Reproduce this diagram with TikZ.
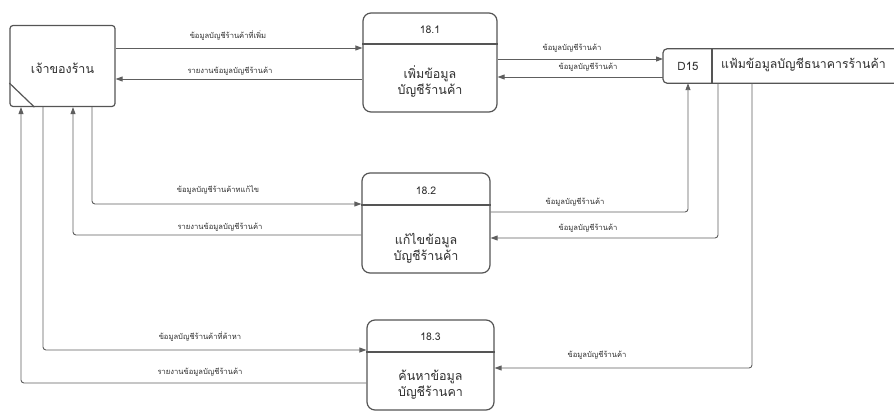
\documentclass[tikz,border=0pt]{standalone}
\usepackage{fontspec}
\newfontfamily\thaifont[Script=Thai]{Loma}
\usetikzlibrary{arrows.meta}
\definecolor{linegray}{HTML}{5E5E5E}
\definecolor{boxgray}{HTML}{555555}
\definecolor{txt}{HTML}{2E2E2E}
\tikzset{
  conn/.style={draw=linegray, line width=0.9pt, rounded corners=3pt},
  flow/.style={conn, -{Triangle[length=7pt,width=5pt]}},
  lbl/.style={font=\thaifont\fontsize{7.6}{9}\selectfont, text=txt, inner sep=0pt},
  procbox/.style={draw=boxgray, line width=1.2pt, rounded corners=8pt, inner sep=0pt},
  idtext/.style={font=\thaifont\fontsize{10.5}{12}\selectfont, text=txt, inner sep=0pt},
  bodytext/.style={font=\thaifont\fontsize{12.5}{16}\selectfont, text=txt, align=center, inner sep=0pt},
}
\begin{document}
\begin{tikzpicture}[x=1pt,y=-1pt]
\useasboundingbox (0,0) rectangle (894,414);
% external entity
\node[draw=boxgray, line width=1.2pt, rounded corners=3pt, minimum width=105pt, minimum height=81pt, inner sep=0pt] (ent) at (62.5,66) {};
\node[bodytext] (entt) at (62.5,68) {เจ้าของร้าน};
\draw[draw=boxgray, line width=1.2pt] ([yshift=24pt]ent.south west) -- ([xshift=25pt]ent.south west);
% processes
\node[procbox, minimum width=134pt, minimum height=99pt] (p1) at (430,62.5) {};
\draw[draw=boxgray, line width=1.2pt] (p1.west |- 0,44) -- (p1.east |- 0,44);
\node[idtext] (p1id) at (430,30) {18.1};
\node[bodytext] (p1t) at (430,81) {เพิ่มข้อมูล\\บัญชีร้านค้า};

\node[procbox, minimum width=128pt, minimum height=100pt] (p2) at (426,223) {};
\draw[draw=boxgray, line width=1.2pt] (p2.west |- 0,205) -- (p2.east |- 0,205);
\node[idtext] (p2id) at (426,191) {18.2};
\node[bodytext] (p2t) at (426,248) {แก้ไขข้อมูล\\บัญชีร้านค้า};

\node[procbox, minimum width=127pt, minimum height=90pt] (p3) at (430.5,365) {};
\draw[draw=boxgray, line width=1.2pt] (p3.west |- 0,352) -- (p3.east |- 0,352);
\node[idtext] (p3id) at (430.5,337) {18.3};
\node[bodytext] (p3t) at (430.5,385) {ค้นหาข้อมูล\\บัญชีร้านคา};

% data store
\node[minimum width=240pt, minimum height=34pt, inner sep=0pt, anchor=west] (ds) at (663,66) {};
\draw[draw=boxgray, line width=1.2pt, rounded corners=4pt] (ds.north east) -- (ds.north west) -- (ds.south west) -- (ds.south east);
\draw[draw=boxgray, line width=1.2pt] (712,49) -- (712,83);
\node[idtext, font=\thaifont\fontsize{11.5}{13}\selectfont] (dsid) at (688,66) {D15};
\node[bodytext, anchor=west, font=\thaifont\fontsize{12.3}{16}\selectfont] (dst) at (721,65) {แฟ้มข้อมูลบัญชีธนาคารร้านค้า};

% flows
\draw[flow] (ent.east |- 0,48) -- (p1.west |- 0,48);
\node[lbl] at (228,36) {ข้อมูลบัญชีร้านค้าที่เพิ่ม};
\draw[flow] (p1.west |- 0,79) -- (ent.east |- 0,79);
\node[lbl] at (230,71) {รายงานข้อมูลบัญชีร้านค้า};

\draw[flow] (p1.east |- 0,59) -- (ds.west |- 0,59);
\node[lbl] at (572,48) {ข้อมูลบัญชีร้านค้า};
\draw[flow] (ds.west |- 0,77) -- (p1.east |- 0,77);
\node[lbl] at (588,67) {ข้อมูลบัญชีร้านค้า};

\draw[flow] (ent.south -| 92,0) |- (p2.west |- 0,204);
\node[lbl] at (218,190) {ข้อมูลบัญชีร้านค้าทแก้ไข};
\draw[flow] (p2.west |- 0,235) -| (ent.south -| 73,0);
\node[lbl] at (220,227) {รายงานข้อมูลบัญชีร้านค้า};

\draw[flow] (p2.east |- 0,212) -| (ds.south -| 688,0);
\node[lbl] at (575,202) {ข้อมูลบัญชีร้านค้า};
\draw[flow] (ds.south -| 718,0) |- (p2.east |- 0,238);
\node[lbl] at (588,228) {ข้อมูลบัญชีร้านค้า};

\draw[flow] (ent.south -| 43,0) |- (p3.west |- 0,350);
\node[lbl] at (200,337) {ข้อมูลบัญชีร้านค้าที่ค้าหา};
\draw[flow] (p3.west |- 0,383) -| (ent.south -| 21,0);
\node[lbl] at (200,372) {รายงานข้อมูลบัญชีร้านค้า};

\draw[flow] (ds.south -| 752,0) |- (p3.east |- 0,368);
\node[lbl] at (597,355) {ข้อมูลบัญชีร้านค้า};
\end{tikzpicture}
\end{document}
